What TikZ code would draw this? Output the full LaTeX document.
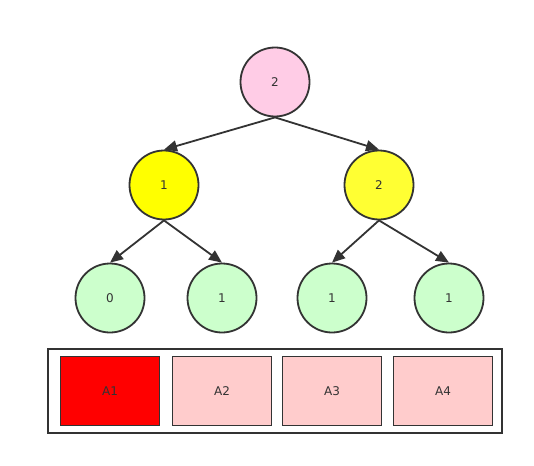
\documentclass[tikz,border=0pt]{standalone}
\usepackage{fontspec}
\setmainfont{DejaVu Sans}
\usetikzlibrary{arrows.meta}
\definecolor{ln}{HTML}{333333}
\definecolor{rootc}{HTML}{FFCCE6}
\definecolor{yel}{HTML}{FFFF00}
\definecolor{yel2}{HTML}{FFFF33}
\definecolor{leafc}{HTML}{CCFFCC}
\definecolor{boxc}{HTML}{FFCCCC}
\begin{document}
\begin{tikzpicture}[x=1pt,y=-1pt,
  tn/.style={circle,draw=ln,line width=1.8pt,minimum size=69pt,inner sep=0pt,font=\fontsize{12}{14}\selectfont,text=ln},
  cell/.style={rectangle,draw=ln,line width=1.8pt,minimum width=99pt,minimum height=69pt,inner sep=0pt,font=\fontsize{12}{14}\selectfont,text=ln},
  edge/.style={draw=ln,line width=1.8pt,-{Triangle[length=13pt,width=11pt]}}]
\useasboundingbox (0,0) rectangle (534,465);
\node[tn,fill=rootc] (r) at (275,82) {2};
\node[tn,fill=yel] (a) at (164,185) {1};
\node[tn,fill=yel2] (b) at (379,185) {2};
\node[tn,fill=leafc] (c) at (110,298) {0};
\node[tn,fill=leafc] (d) at (222,298) {1};
\node[tn,fill=leafc] (e) at (332,298) {1};
\node[tn,fill=leafc] (f) at (449,298) {1};
\draw[edge] (r.south) -- (a.north);
\draw[edge] (r.south) -- (b.north);
\draw[edge] (a.south) -- (c.north);
\draw[edge] (a.south) -- (d.north);
\draw[edge] (b.south) -- (e.north);
\draw[edge] (b.south) -- (f.north);
\node[rectangle,draw=ln,line width=1.8pt,minimum width=454pt,minimum height=84pt,inner sep=0pt] (outer) at (275,391) {};
\node[cell,fill=red] (A1) at (110,391) {A1};
\node[cell,fill=boxc] (A2) at (222,391) {A2};
\node[cell,fill=boxc] (A3) at (332,391) {A3};
\node[cell,fill=boxc] (A4) at (443,391) {A4};
\end{tikzpicture}
\end{document}
